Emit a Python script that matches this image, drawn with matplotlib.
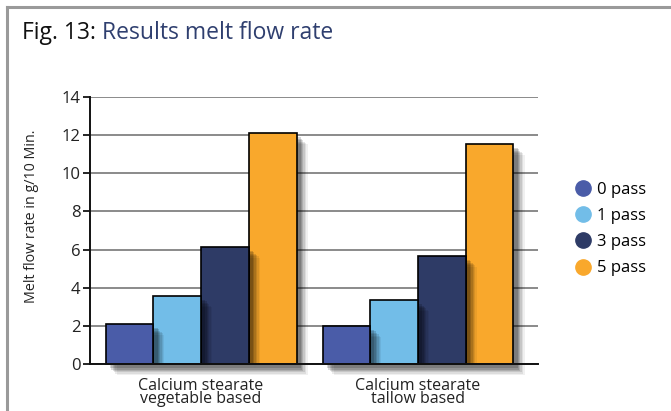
import numpy as np
import matplotlib
matplotlib.use("Agg")
import matplotlib.pyplot as plt
import matplotlib.patheffects as pe
from matplotlib.lines import Line2D

# ── Data ────────────────────────────────────────────────────────────────────
categories = ["Calcium stearate\nvegetable based", "Calcium stearate\ntallow based"]
series_names = ["0 pass", "1 pass", "3 pass", "5 pass"]
pass_0 = [2.12, 2.0]
pass_1 = [3.57, 3.35]
pass_3 = [6.15, 5.68]
pass_5 = [12.1, 11.55]
y_ticks = [0, 2, 4, 6, 8, 10, 12, 14]

COLORS = ["#4a5ca8", "#72bde8", "#2e3b66", "#f9a82c"]
TITLE_BLUE = "#2f3f6f"
FONT = ["Open Sans", "DejaVu Sans"]

plt.rcParams["font.family"] = FONT

W, H = 671, 411
fig = plt.figure(figsize=(W / 100, H / 100), dpi=100)
fig.patch.set_facecolor("white")

# axes placed in pixel terms
ax_l, ax_r, ax_top, ax_bot = 90, 538, 97, 364
ax = fig.add_axes([ax_l / W, (H - ax_bot) / H, (ax_r - ax_l) / W, (ax_bot - ax_top) / H])

values = [pass_0, pass_1, pass_3, pass_5]
x = np.arange(len(categories))
bw = 0.22

# soft drop shadow built from a few stacked offsets
shadow = [pe.SimplePatchShadow(offset=(d, -d), shadow_rgbFace="black", alpha=a)
          for d, a in [(8, 0.06), (7, 0.08), (6, 0.1), (5, 0.12), (4, 0.14), (3, 0.16)]]
shadow.append(pe.Normal())

# left-most series on top, so each shadow falls on the bar to its right
for i, (name, vals) in enumerate(zip(series_names, values)):
    xs = x + (i - 1.5) * bw
    bars = ax.bar(xs, vals, width=bw, color=COLORS[i], edgecolor="black",
                  linewidth=1.2, zorder=10 - i, path_effects=shadow)
    for b in bars:
        b.set_clip_on(False)  # let the shadow spill below the baseline

ax.set_xlim(-0.512, 1.553)
ax.set_ylim(0, 14)
ax.set_yticks(y_ticks)
ax.set_yticklabels([str(t) for t in y_ticks], fontsize=12, color="#222222")
ax.set_xticks(x)
ax.set_xticklabels(categories, fontsize=11.5, color="#222222", linespacing=0.8)
ax.tick_params(axis="x", length=0, pad=10)
ax.tick_params(axis="y", length=5, width=1.2, pad=2)
ax.grid(axis="y", color="#777777", linewidth=1.2, zorder=0)
ax.set_axisbelow(True)
ax.spines[["top", "right"]].set_visible(False)
for s in ["left", "bottom"]:
    ax.spines[s].set_linewidth(1.4)
    ax.spines[s].set_color("#111111")
    ax.spines[s].set_zorder(11)

fig.text(32 / W, 1 - 216 / H, "Melt flow rate in g/10 Min.", rotation=90,
         ha="center", va="center", fontsize=10.3, color="#222222")

# ── Legend (circle markers) ─────────────────────────────────────────────────
handles = [Line2D([], [], marker="o", linestyle="none", markersize=11,
                  markerfacecolor=c, markeredgecolor=c) for c in COLORS]
fig.legend(handles, series_names, loc="center left",
           bbox_to_anchor=(566 / W, 1 - 229 / H), frameon=False,
           fontsize=12, handletextpad=0.35, labelspacing=0.62,
           handlelength=1.0, borderpad=0)

# ── Title in two colours ───────────────────────────────────────────────────
t1 = fig.text(22 / W, 1 - 33 / H, "Fig. 13:", fontsize=16.5, color="#111111",
              va="center", ha="left")
fig.canvas.draw()
bb = t1.get_window_extent()
fig.text(bb.x1 / W + 6 / W, 1 - 33 / H, "Results melt flow rate", fontsize=16.5,
         color=TITLE_BLUE, va="center", ha="left")

# ── Grey frame (left and top) ──────────────────────────────────────────────
frame_c = "#9a9a9a"
fig.add_artist(Line2D([7 / W, 7 / W], [0, 1 - 7 / H], color=frame_c, linewidth=2.2))
fig.add_artist(Line2D([7 / W, 1], [1 - 7 / H, 1 - 7 / H], color=frame_c, linewidth=2.2))

fig.savefig("out.png", dpi=100)
